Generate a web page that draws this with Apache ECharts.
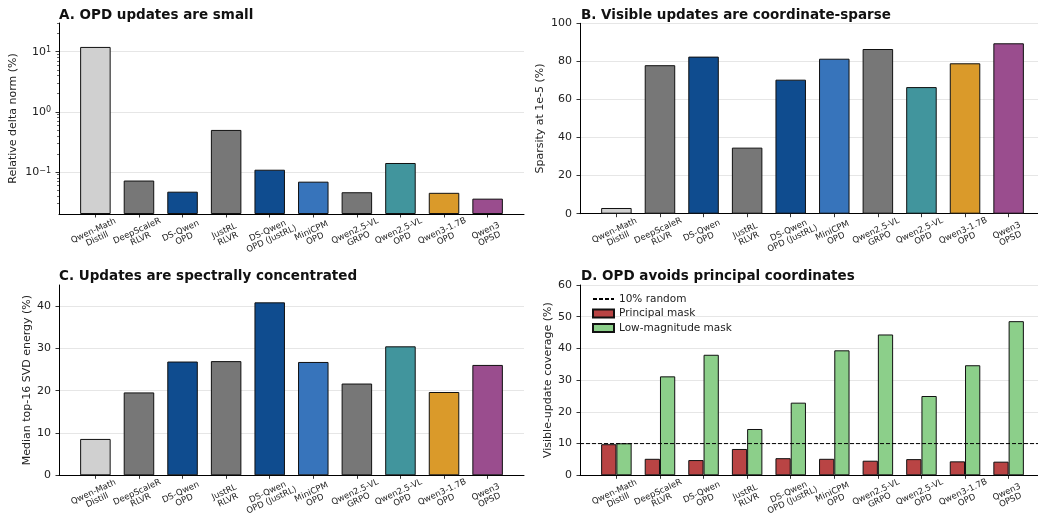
<!DOCTYPE html>
<html>
<head>
<meta charset="utf-8">
<script src="https://cdn.jsdelivr.net/npm/echarts@6/dist/echarts.min.js"></script>
<style>
    html, body { margin: 0; padding: 0; background: #fff; }
    #chart { width: 1038px; height: 521px; }
</style>
</head>
<body>
<div id="chart"></div>
<script>
// 数据
var categories = ["Qwen-Math\nDistill", "DeepScaleR\nRLVR", "DS-Qwen\nOPD", "JustRL\nRLVR", "DS-Qwen\nOPD (JustRL)",
    "MiniCPM\nOPD", "Qwen2.5-VL\nGRPO", "Qwen2.5-VL\nOPD", "Qwen3-1.7B\nOPD", "Qwen3\nOPSD"];
var deltaNorm = [12.0, 0.072, 0.047, 0.50, 0.109, 0.069, 0.046, 0.141, 0.045, 0.036];
var sparsity = [3, 78, 82.5, 34.7, 70.4, 81.4, 86.5, 66.5, 79, 89.5];
var svdEnergy = [8.6, 19.6, 26.9, 27.0, 40.9, 26.8, 21.7, 30.5, 19.7, 26.1];
var principalMask = [9.8, 5.2, 4.8, 8.3, 5.4, 5.2, 4.6, 5.1, 4.4, 4.3];
var lowMagMask = [10.1, 31.2, 38.0, 14.6, 22.9, 39.4, 44.4, 25.0, 34.7, 48.6];
var randomBaseline = 10;

// 刻度
var logTicks = [0.1, 1, 10];
var logTickExps = ["\u22121", "0", "1"];
var logMinorTicks = [0.03, 0.04, 0.05, 0.06, 0.07, 0.08, 0.09, 0.2, 0.3, 0.4, 0.5, 0.6, 0.7, 0.8, 0.9,
    2, 3, 4, 5, 6, 7, 8, 9, 20, 30];
var svdTicks = [0, 10, 20, 30, 40];

var barColors = ["#d0d0d0", "#777777", "#0f4c8f", "#777777", "#0f4c8f", "#3774bb", "#777777", "#41959d", "#da9a2a", "#9a4d8e"];

var page = {
    font: "DejaVu Sans",
    xMin: -0.835,
    xMax: 9.835,
    grids: [
        { left: 59, top: 23, width: 465, height: 191 },
        { left: 580, top: 23.3, width: 465, height: 190.4 },
        { left: 59, top: 285, width: 465, height: 190.3 },
        { left: 580, top: 285, width: 465, height: 190.3 },
        { left: 59, top: 23, width: 465, height: 191 }
    ],
    points: function (arr) {
        var out = [];
        for (var i = 0; i < arr.length; i++) {
            out.push([i, arr[i]]);
        }
        return out;
    },
    xAxis: function (idx, hidden) {
        var ticks = [];
        for (var i = 0; i < categories.length; i++) ticks.push(i);
        return {
            type: "value", gridIndex: idx, min: page.xMin, max: page.xMax, show: !hidden,
            axisLine: { onZero: false, lineStyle: { color: "#000", width: 1 } },
            axisTick: { customValues: ticks, length: 3.5, lineStyle: { color: "#000", width: 0.8 } },
            axisLabel: {
                customValues: ticks, showMinLabel: true, showMaxLabel: true, hideOverlap: false,
                formatter: function (v) { return categories[Math.round(v)]; },
                rotate: 25, align: "center", verticalAlign: "middle", margin: 21,
                fontSize: 8.5, lineHeight: 8.8, color: "#222", fontFamily: page.font
            },
            splitLine: { show: false }
        };
    },
    yAxis: function (idx, name, gap, extra) {
        var ax = {
            type: "value", gridIndex: idx, name: name, nameLocation: "middle", nameGap: gap,
            nameTextStyle: { fontSize: 11, color: "#222", fontFamily: page.font },
            axisLine: { show: true, onZero: false, lineStyle: { color: "#000", width: 1 } },
            axisTick: { show: true, length: 3.5, lineStyle: { color: "#000", width: 0.8 } },
            axisLabel: { fontSize: 11, color: "#222", margin: 8, fontFamily: page.font },
            splitLine: { show: true, lineStyle: { color: "#e6e6e6", width: 1 } }
        };
        for (var k in extra) ax[k] = extra[k];
        return ax;
    },
    barStyle: function (color) {
        return { color: color, borderColor: "#111", borderWidth: 1 };
    },
    title: function (text, left, top) {
        return { text: text, left: left, top: top, textStyle: { fontSize: 13.5, fontWeight: "bold", color: "#111", fontFamily: page.font } };
    },
    init: function () {
        var chart = echarts.init(document.getElementById("chart"), null, { renderer: "canvas" });
        var colorFn = function (p) { return barColors[p.dataIndex]; };
        var grids = [];
        for (var i = 0; i < page.grids.length; i++) {
            var g = page.grids[i];
            grids.push({ left: g.left, top: g.top, width: g.width, height: g.height, containLabel: false, outerBoundsMode: "none" });
        }
        var options = {
            animation: false,
            textStyle: { fontFamily: page.font },
            title: [
                page.title("A. OPD updates are small", 54, 3),
                page.title("B. Visible updates are coordinate-sparse", 576, 3),
                page.title("C. Updates are spectrally concentrated", 54, 264),
                page.title("D. OPD avoids principal coordinates", 576, 264)
            ],
            grid: grids,
            xAxis: [page.xAxis(0), page.xAxis(1), page.xAxis(2), page.xAxis(3), page.xAxis(4, true)],
            yAxis: [
                page.yAxis(0, "Relative delta norm (%)", 40, {
                    type: "log", min: 0.02, max: 30, startValue: 0.02,
                    axisTick: { customValues: logTicks, length: 3.5, lineStyle: { color: "#000", width: 0.8 } },
                    axisLabel: {
                        customValues: logTicks, fontSize: 11, color: "#222", margin: 8, fontFamily: page.font,
                        formatter: function (v) {
                            for (var i = 0; i < logTicks.length; i++) {
                                if (Math.abs(v - logTicks[i]) < logTicks[i] * 1e-6) return "10{sup|" + logTickExps[i] + "}";
                            }
                            return "";
                        },
                        rich: {
                            sup: { fontSize: 8, color: "#222", verticalAlign: "top", lineHeight: 8, fontFamily: page.font }
                        }
                    }
                }),
                page.yAxis(1, "Sparsity at 1e-5 (%)", 34, { min: 0, max: 100, interval: 20 }),
                page.yAxis(2, "Median top-16 SVD energy (%)", 25, {
                    min: 0, max: 45,
                    axisTick: { customValues: svdTicks, length: 3.5, lineStyle: { color: "#000", width: 0.8 } },
                    axisLabel: { customValues: svdTicks, fontSize: 11, color: "#222", margin: 8, fontFamily: page.font }
                }),
                page.yAxis(3, "Visible-update coverage (%)", 26, { min: 0, max: 60, interval: 10 }),
                {
                    type: "log", gridIndex: 4, min: 0.02, max: 30,
                    axisLine: { show: false, onZero: false },
                    axisTick: { show: true, customValues: logMinorTicks, length: 2, lineStyle: { color: "#000", width: 0.6 } },
                    axisLabel: { show: false },
                    splitLine: { show: false }
                }
            ],
            legend: {
                orient: "vertical", left: 587, top: 288, itemWidth: 21, itemHeight: 8, itemGap: 2.5,
                textStyle: { fontSize: 10.5, lineHeight: 12, color: "#222", fontFamily: page.font },
                data: [
                    { name: "10% random" },
                    { name: "Principal mask", icon: "rect" },
                    { name: "Low-magnitude mask", icon: "rect" }
                ]
            },
            series: [
                { type: "bar", xAxisIndex: 0, yAxisIndex: 0, barWidth: "70%", data: page.points(deltaNorm), itemStyle: page.barStyle(colorFn) },
                { type: "bar", xAxisIndex: 1, yAxisIndex: 1, barWidth: "70%", data: page.points(sparsity), itemStyle: page.barStyle(colorFn) },
                { type: "bar", xAxisIndex: 2, yAxisIndex: 2, barWidth: "70%", data: page.points(svdEnergy), itemStyle: page.barStyle(colorFn) },
                { name: "Principal mask", type: "bar", xAxisIndex: 3, yAxisIndex: 3, barWidth: "35%", barGap: "0%", data: page.points(principalMask), itemStyle: page.barStyle("#b94444") },
                { name: "Low-magnitude mask", type: "bar", xAxisIndex: 3, yAxisIndex: 3, barWidth: "35%", barGap: "0%", data: page.points(lowMagMask), itemStyle: page.barStyle("#8ccf8a") },
                {
                    name: "10% random", type: "line", xAxisIndex: 3, yAxisIndex: 3, symbol: "none", z: 5,
                    data: [[page.xMin, randomBaseline], [page.xMax, randomBaseline]],
                    lineStyle: { color: "#000", width: 1, type: [4, 2] }, itemStyle: { color: "rgba(0,0,0,0)" }
                }
            ]
        };
        chart.setOption(options, true);
    }
};

page.init();
</script>
</body>
</html>
